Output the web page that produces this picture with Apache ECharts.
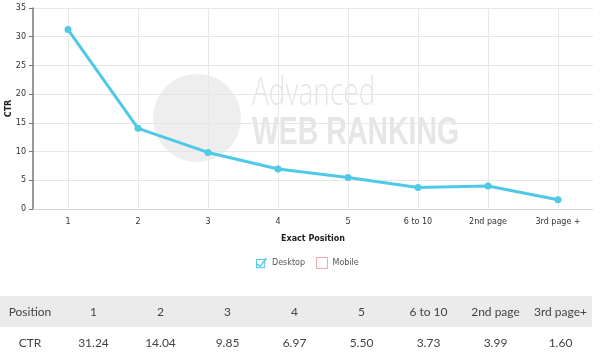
<!DOCTYPE html>
<html>
<head>
<meta charset="utf-8">
<script src="https://cdn.jsdelivr.net/npm/echarts@6/dist/echarts.min.js"></script>
<style>
  html, body { margin: 0; padding: 0; background: #fff; }
  #wrap { position: relative; width: 600px; height: 352px; overflow: hidden; }
  #chart { position: absolute; left: 0; top: 0; width: 600px; height: 352px; }
  #tbl {
    position: absolute; left: 0; top: 296px; border-collapse: collapse;
    font-family: "Lato", sans-serif; font-size: 12px; color: #444;
  }
  #tbl td { padding: 0; text-align: center; white-space: nowrap; }
  #tbl tr.head td { background: #ebebeb; height: 31px; }
  #tbl tr.vals td { height: 30px; }
</style>
</head>
<body>
<div id="wrap">
  <div id="chart"></div>
  <table id="tbl"></table>
</div>
<script>
// categories along the x axis
var positions = ['1', '2', '3', '4', '5', '6 to 10', '2nd page', '3rd page +']
// labels used in the table row (last one is written without the space)
var tableLabels = ['1', '2', '3', '4', '5', '6 to 10', '2nd page', '3rd page+']
// CTR values, percent
var desktopCtr = [31.24, 14.04, 9.85, 6.97, 5.50, 3.73, 3.99, 1.60]
var mobileCtr = []   // hidden in the picture, nothing plotted
var yTicks = { min: 0, max: 35, interval: 5 }

var lineColor = '#4fc9e6'

// table under the chart
var tbl = document.getElementById('tbl')
var colWidths = [60, 67, 67, 67, 67, 67, 67, 67, 63]
var head = '<tr class="head"><td style="width:' + colWidths[0] + 'px">Position</td>'
var vals = '<tr class="vals"><td>CTR</td>'
tableLabels.forEach(function (p, i) {
  head += '<td style="width:' + colWidths[i + 1] + 'px">' + p + '</td>'
  vals += '<td>' + desktopCtr[i].toFixed(2) + '</td>'
})
tbl.innerHTML = head + '</tr>' + vals + '</tr>'

var chart = echarts.init(document.getElementById('chart'), null, { renderer: 'canvas' })

// checkbox with a tick, for the Desktop legend item
var checkedBox = 'path://M0,2 L10,2 L10,12 L0,12 Z M1,3 L1,11 L9,11 L9,3 Z ' +
  'M1.5,6.5 L4.5,9 L10.5,0.5 L12,2 L4.5,11 L0.5,8 Z'

var option = {
  animation: false,
  textStyle: { fontFamily: 'DejaVu Sans' },
  grid: { left: 33, right: 7, top: 8, bottom: 143, containLabel: false, outerBoundsMode: 'none' },
  // watermark logo behind the plot
  graphic: [
    { type: 'circle', z: -1, shape: { cx: 197, cy: 118, r: 44 }, style: { fill: '#eeeeee' } },
    { type: 'text', z: -1, x: 252, y: 74, scaleX: 0.72,
      style: { text: 'Advanced', fontFamily: 'Open Sans', fontWeight: 300, fontSize: 39, fill: '#e6e6e6' } },
    { type: 'text', z: -1, x: 252, y: 114, scaleX: 0.73,
      style: { text: 'WEB RANKING', fontFamily: 'Liberation Sans', fontWeight: 'bold', fontSize: 39, fill: '#e6e6e6' } }
  ],
  legend: {
    top: 252,
    left: 251,
    itemWidth: 11,
    itemHeight: 11,
    itemGap: 11,
    textStyle: { fontSize: 8, color: '#555', fontFamily: 'DejaVu Sans' },
    data: [
      { name: 'Desktop', icon: checkedBox, itemStyle: { color: lineColor } },
      { name: 'Mobile', icon: 'rect', itemStyle: { color: '#fff', borderColor: '#f3a5ae', borderWidth: 1 } }
    ]
  },
  xAxis: {
    type: 'category',
    data: positions,
    boundaryGap: true,
    name: 'Exact Position',
    nameLocation: 'middle',
    nameGap: 26,
    nameTextStyle: { fontSize: 8, fontWeight: 'bold', color: '#222' },
    axisLine: { lineStyle: { color: '#d6d6d6', width: 1 } },
    axisTick: { show: false },
    axisLabel: { fontSize: 8, color: '#333', margin: 9, interval: 0 },
    splitLine: { show: false }
  },
  yAxis: {
    type: 'value',
    min: yTicks.min,
    max: yTicks.max,
    interval: yTicks.interval,
    name: 'CTR',
    nameLocation: 'middle',
    nameGap: 20,
    nameMoveOverlap: false,
    nameTextStyle: { fontSize: 8, fontWeight: 'bold', color: '#222' },
    axisLine: { show: true, lineStyle: { color: '#777', width: 1.5 } },
    axisTick: { show: true, length: 4, lineStyle: { color: '#777' } },
    axisLabel: { fontSize: 8, color: '#333', margin: 7 },
    splitLine: { lineStyle: { color: '#e6e6e6' } }
  },
  series: [
    {
      // vertical grid lines through each category centre
      name: 'grid',
      type: 'line',
      data: [],
      z: 1,
      silent: true,
      markLine: {
        z: 1,
        silent: true,
        symbol: 'none',
        label: { show: false },
        lineStyle: { color: '#e8e8e8', type: 'solid', width: 1 },
        data: positions.map(function (p) { return { xAxis: p } })
      }
    },
    {
      name: 'Desktop',
      type: 'line',
      data: desktopCtr,
      color: lineColor,
      z: 3,
      symbol: 'circle',
      symbolSize: 7,
      lineStyle: { width: 3, color: lineColor },
      itemStyle: { color: lineColor }
    },
    {
      name: 'Mobile',
      type: 'line',
      data: mobileCtr,
      color: '#f3a5ae'
    }
  ]
}

chart.setOption(option)
</script>
</body>
</html>
